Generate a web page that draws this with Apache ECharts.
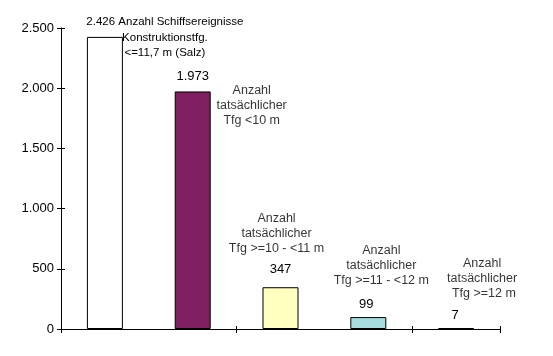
<!DOCTYPE html>
<html>
<head>
<meta charset="utf-8">
<script src="https://cdn.jsdelivr.net/npm/echarts@6/dist/echarts.min.js"></script>
<style>
html,body{margin:0;padding:0;background:#fff;}
#chart{width:553px;height:356px;}
</style>
</head>
<body>
<div id="chart"></div>
<script>
const categories = ['<=11,7 m (Salz)', 'Tfg <10 m', 'Tfg >=10 - <11 m', 'Tfg >=11 - <12 m', 'Tfg >=12 m'];
const values = [2426, 1973, 347, 99, 7];
const seriesNames = [
  ['Anzahl Schiffsereignisse', 'Konstruktionstfg.', '<=11,7 m (Salz)'],
  ['Anzahl', 'tatsächlicher', 'Tfg <10 m'],
  ['Anzahl', 'tatsächlicher', 'Tfg >=10 - <11 m'],
  ['Anzahl', 'tatsächlicher', 'Tfg >=11 - <12 m'],
  ['Anzahl', 'tatsächlicher', ' Tfg >=12 m']
];
const yTickValues = [0, 500, 1000, 1500, 2000, 2500];
const yTickLabels = ['0', '500', '1.000', '1.500', '2.000', '2.500'];

const colors = ['#ffffff', '#7f1f5f', '#ffffc0', '#a6dede', '#000000'];
const FONT = "'Liberation Sans', Arial, sans-serif";

function fmt(v) {
  return String(v).replace(/\B(?=(\d{3})+(?!\d))/g, '.');
}

// offsets for value labels and name labels (styling only)
const valueOffsets = [[60, 31], [0, 0], [0, -3], [-2, 2], [-1, 2]];
const nameOffsets = [[0, 0], [59, 14], [-4, -54], [13, -52], [26, -50]];

const barData = values.map((v, i) => ({
  value: v,
  itemStyle: { color: colors[i], borderColor: '#000', borderWidth: 1 },
  label: i === 0 ? {
    show: true,
    position: 'top',
    distance: 7,
    offset: valueOffsets[i],
    fontSize: 11.5,
    lineHeight: 15.5,
    formatter: (p) => fmt(p.value) + ' ' + seriesNames[0].join('\n')
  } : {
    show: true,
    position: 'top',
    distance: 7,
    offset: valueOffsets[i],
    fontSize: 13,
    lineHeight: 15.5,
    formatter: (p) => fmt(p.value)
  }
}));

const nameData = values.map((v, i) => ({
  value: v,
  label: i === 0 ? { show: false } : {
    show: true,
    formatter: () => seriesNames[i].join('\n')
  }
}));

const yMax = yTickValues[yTickValues.length - 1];
const yInterval = yTickValues[1] - yTickValues[0];

const chart = echarts.init(document.getElementById('chart'), null, { renderer: 'canvas' });
chart.setOption({
  animation: false,
  backgroundColor: '#ffffff',
  textStyle: { fontFamily: FONT },
  grid: { left: 61, right: 53, top: 28, bottom: 27, containLabel: false },
  xAxis: [{
    type: 'category',
    data: categories,
    boundaryGap: true,
    axisLine: { show: true, lineStyle: { color: '#000', width: 1 } },
    axisTick: { show: true, length: 4, lineStyle: { color: '#000' } },
    axisLabel: { show: false },
    splitLine: { show: false }
  }, {
    type: 'category',
    data: categories,
    position: 'bottom',
    boundaryGap: true,
    axisLine: { show: false },
    axisTick: { show: true, inside: true, length: 3, lineStyle: { color: '#000' } },
    axisLabel: { show: false },
    splitLine: { show: false }
  }],
  yAxis: [{
    type: 'value',
    min: 0,
    max: yMax,
    interval: yInterval,
    axisLine: { show: true, lineStyle: { color: '#000', width: 1 } },
    axisTick: { show: true, length: 4, lineStyle: { color: '#000' } },
    axisLabel: {
      color: '#000',
      fontSize: 13,
      fontFamily: FONT,
      margin: 7,
      formatter: (v) => yTickLabels[yTickValues.indexOf(v)]
    },
    splitLine: { show: false }
  }, {
    type: 'value',
    position: 'left',
    min: 0,
    max: yMax,
    interval: yInterval,
    axisLine: { show: false },
    axisTick: { show: true, inside: true, length: 4, lineStyle: { color: '#000' } },
    axisLabel: { show: false },
    splitLine: { show: false }
  }],
  series: [{
    type: 'bar',
    data: barData,
    barWidth: 36,
    label: {
      color: '#000',
      fontFamily: FONT,
      align: 'center'
    },
    z: 2
  }, {
    type: 'scatter',
    data: nameData,
    symbolSize: 1,
    itemStyle: { color: 'rgba(0,0,0,0)' },
    silent: true,
    labelLayout: (params) => ({
      dx: nameOffsets[params.dataIndex][0],
      dy: nameOffsets[params.dataIndex][1],
      hideOverlap: false
    }),
    label: {
      show: true,
      position: 'inside',
      color: '#000',
      fontSize: 12.5,
      fontFamily: FONT,
      lineHeight: 15,
      align: 'center',
      verticalAlign: 'middle'
    },
    z: 3
  }]
});
</script>
</body>
</html>
